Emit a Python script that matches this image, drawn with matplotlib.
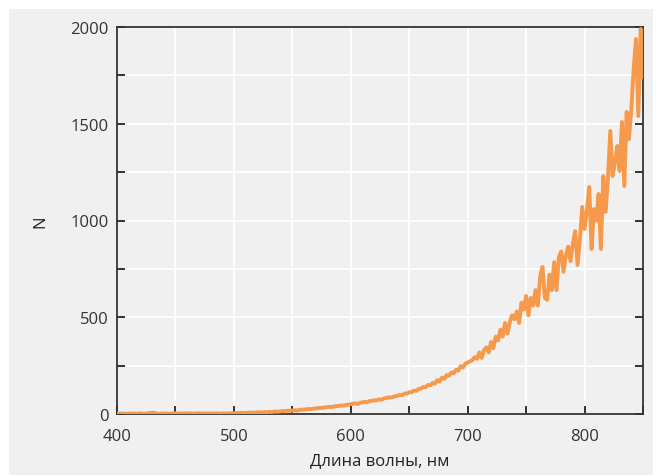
import numpy as np
import matplotlib
matplotlib.use("Agg")
import matplotlib.pyplot as plt
from matplotlib.patches import Rectangle
from matplotlib.ticker import MultipleLocator

# wavelength grid, 2 nm step, 400..850 nm
wavelength = np.arange(400, 851, 2)

counts_400 = [2, 1, 3, 2, 1, 2, 3, 1, 2, 2,
              3, 1, 2, 3, 4, 7, 5, 2, 1, 2,
              2, 3, 1, 2, 3, 4, 2, 3, 2, 3,
              4, 2, 3, 2, 3, 4, 3, 2, 3, 2,
              3, 2, 3, 4, 2, 3, 3, 2, 4, 3]
counts_500 = [4, 5, 4, 6, 5, 6, 7, 6, 8, 7,
              8, 9, 8, 10, 9, 11, 10, 12, 13, 12,
              14, 15, 14, 17, 16, 18, 19, 18, 21, 22,
              23, 24, 26, 25, 28, 29, 30, 32, 31, 34,
              35, 37, 36, 39, 41, 42, 44, 43, 47, 48]
counts_600 = [51, 53, 55, 52, 58, 60, 63, 60, 67, 68,
              71, 70, 76, 73, 80, 82, 86, 85, 88, 92,
              94, 99, 97, 106, 105, 113, 112, 121, 120, 129,
              131, 140, 138, 150, 148, 160, 157, 175, 168, 188,
              182, 201, 197, 215, 210, 229, 224, 247, 240, 260]
counts_700 = [266, 272, 278, 294, 285, 318, 290, 330, 345, 318,
              372, 340, 400, 380, 436, 400, 470, 415, 475, 510,
              490, 530, 470, 575, 540, 610, 510, 600, 560, 640,
              560, 710, 760, 600, 590, 720, 640, 785, 640, 810,
              840, 735, 820, 865, 790, 880, 945, 770, 900, 1070]
counts_800 = [956, 1050, 1173, 853, 1059, 1000, 1137, 853, 1230, 1044,
              1214, 1463, 1230, 1300, 1385, 1256, 1509, 1178, 1561, 1421,
              1576, 1783, 1938, 1540, 1990, 1740]

counts = counts_400 + counts_500 + counts_600 + counts_700 + counts_800

x_ticks = [400, 500, 600, 700, 800]
y_ticks = [0, 500, 1000, 1500, 2000]

plt.rcParams["font.family"] = ["Open Sans", "DejaVu Sans"]

fig = plt.figure(figsize=(6.62, 4.77), dpi=100, facecolor="white")
fig.patches.append(Rectangle((9 / 662, 1 / 477), 644 / 662, 466 / 477,
                             transform=fig.transFigure, facecolor="#f0f0f0",
                             edgecolor="none", zorder=-10))
ax = fig.add_axes([117 / 662, 62 / 477, 526 / 662, 387 / 477])
ax.set_facecolor("#f0f0f0")

ax.plot(wavelength, counts, color="#f7994b", linewidth=2.8, zorder=3)

ax.set_xlim(400, 850)
ax.set_ylim(0, 2000)
ax.set_xticks(x_ticks)
ax.set_yticks(y_ticks)
ax.xaxis.set_minor_locator(MultipleLocator(50))
ax.yaxis.set_minor_locator(MultipleLocator(250))
ax.grid(True, which="both", color="white", linewidth=1.3, zorder=1)
ax.set_axisbelow(True)

ax.tick_params(which="both", direction="in", length=6, width=1.3,
               color="#222222", left=True, right=True, bottom=True, top=False,
               labelsize=12, labelcolor="#333333")
ax.tick_params(axis="x", which="both", pad=10)
ax.tick_params(axis="y", which="both", pad=6)
for side in ["left", "bottom", "right", "top"]:
    ax.spines[side].set_color("#333333")
    ax.spines[side].set_linewidth(1.3)

ax.set_xlabel("Длина волны, нм", fontsize=12, color="#222222", labelpad=6)
ax.set_ylabel("N", fontsize=12, color="#222222", labelpad=16)

fig.savefig("out.png", dpi=100, facecolor="white")
